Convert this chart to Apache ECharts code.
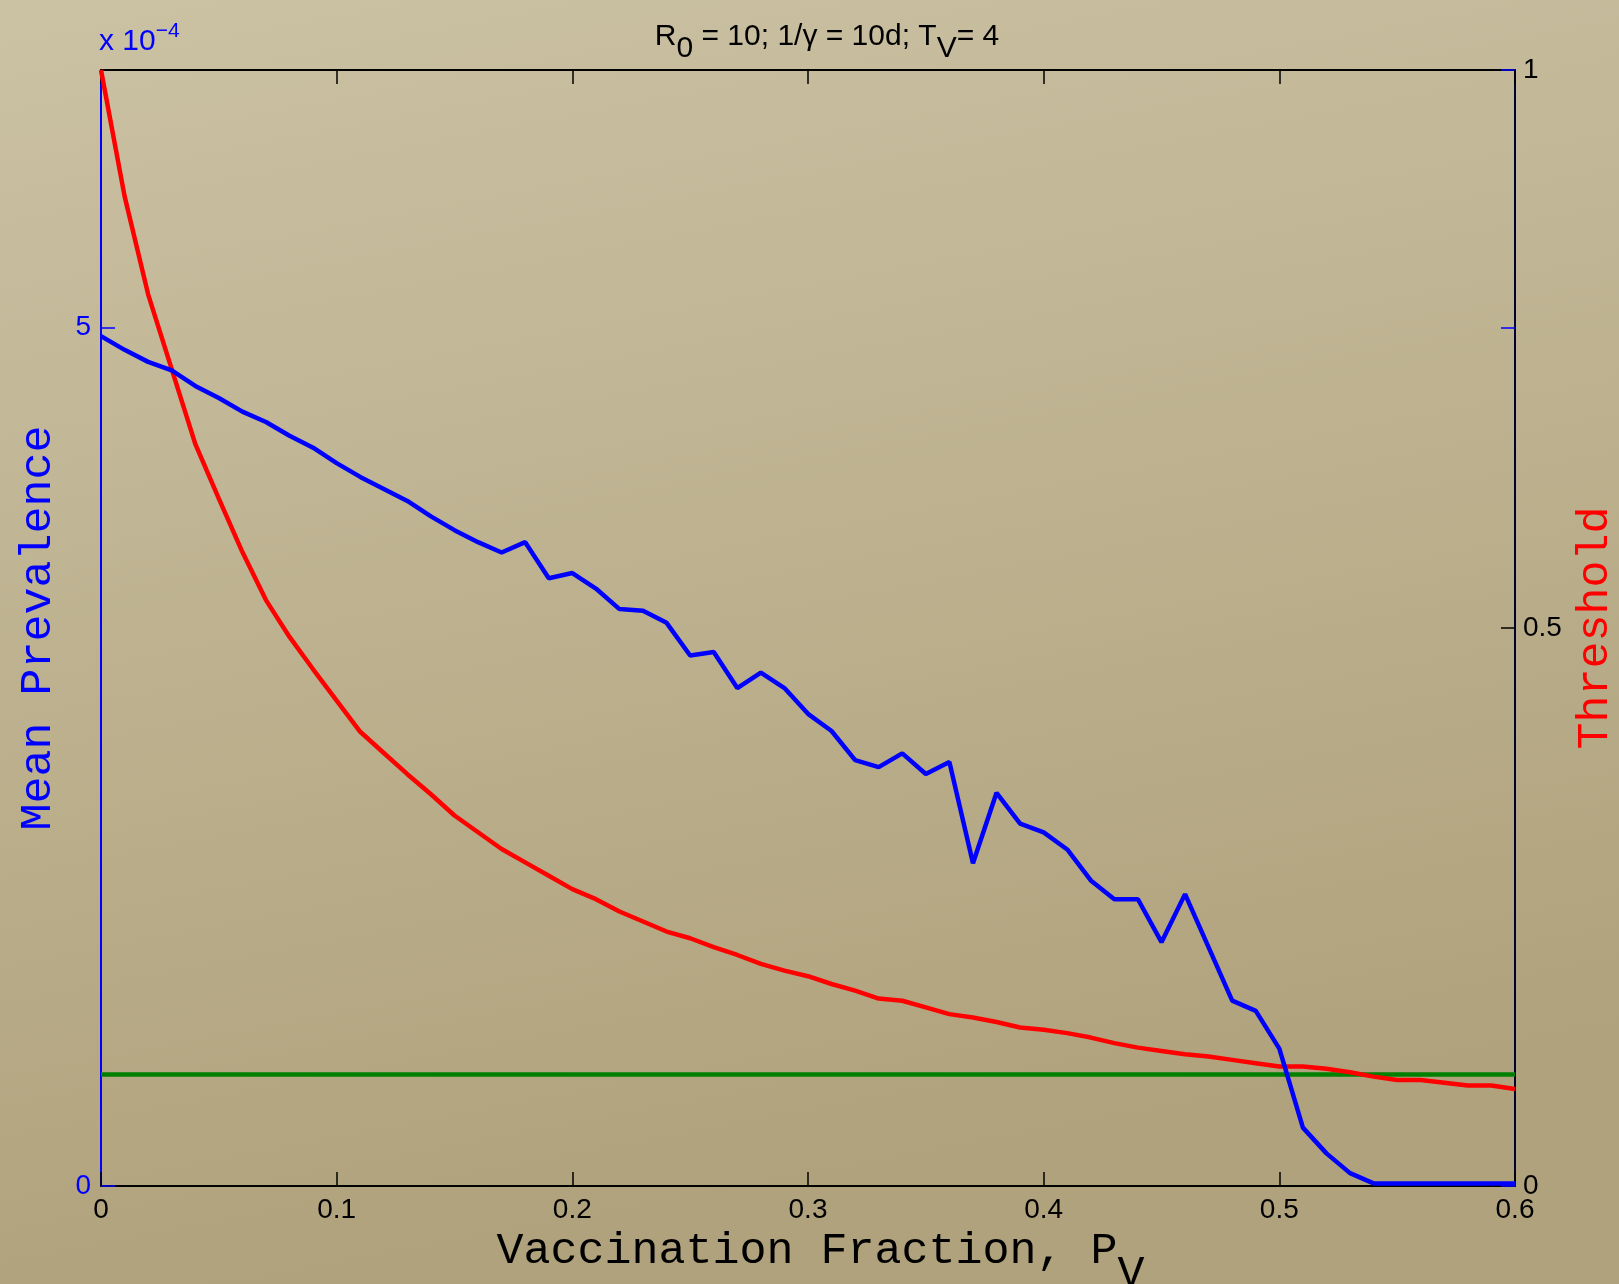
<!DOCTYPE html>
<html>
<head>
<meta charset="utf-8">
<script src="https://cdn.jsdelivr.net/npm/echarts@6/dist/echarts.min.js"></script>
<style>
  html, body { margin: 0; padding: 0; }
  #container { width: 1619px; height: 1284px; }
</style>
</head>
<body>
<div id="container"></div>
<script>
    var dom = document.getElementById('container');
    var myChart = echarts.init(dom, null, {
      renderer: 'canvas',
      useDirtyRect: false
    });

    // vaccination fraction, 0 .. 0.6 step 0.01
    var pv = [];
    for (var i = 0; i <= 60; i++) pv.push(+(i / 100).toFixed(2));

    // mean prevalence (x 1e-4)
    var prevalence = [
      4.95, 4.87, 4.80, 4.75, 4.66, 4.59, 4.51, 4.45, 4.37, 4.30,
      4.21, 4.13, 4.06, 3.99, 3.90, 3.82, 3.75, 3.69, 3.75, 3.54,
      3.57, 3.48, 3.36, 3.35, 3.28, 3.09, 3.11, 2.90, 2.99, 2.90,
      2.75, 2.65, 2.48, 2.44, 2.52, 2.40, 2.47, 1.88, 2.29, 2.11,
      2.06, 1.96, 1.78, 1.67, 1.67, 1.42, 1.70, 1.39, 1.08, 1.02,
      0.80, 0.34, 0.19, 0.075, 0.015, 0.015, 0.015, 0.015, 0.015, 0.015,
      0.015
    ];

    // threshold (right axis)
    var threshold = [
      1.000, 0.887, 0.799, 0.732, 0.665, 0.616, 0.568, 0.525, 0.492, 0.463,
      0.435, 0.407, 0.388, 0.369, 0.351, 0.332, 0.317, 0.302, 0.290, 0.278,
      0.266, 0.257, 0.246, 0.237, 0.228, 0.222, 0.214, 0.207, 0.199, 0.193,
      0.188, 0.181, 0.175, 0.168, 0.166, 0.160, 0.154, 0.151, 0.147, 0.142,
      0.140, 0.137, 0.133, 0.128, 0.124, 0.121, 0.118, 0.116, 0.113, 0.110,
      0.107, 0.107, 0.105, 0.102, 0.098, 0.095, 0.095, 0.0925, 0.090, 0.090,
      0.087
    ];

    // constant reference level
    var refX = [0, 0.6];
    var refLevel = 0.1;

    var sans = 'Liberation Sans';
    var mono = 'Liberation Mono';
    var gridBox = { left: 101, right: 104, top: 70, bottom: 98, containLabel: false, outerBoundsMode: 'none' };

    var option = {
      backgroundColor: new echarts.graphic.LinearGradient(0, 0, 0.15, 1, [
        { offset: 0, color: '#cbc2a4' },
        { offset: 1, color: '#b0a27c' }
      ]),
      animation: false,
      title: {
        text: 'R{s|0} = 10; 1/γ = 10d; T{s|V}= 4',
        left: 822,
        top: 5,
        textAlign: 'center',
        textStyle: {
          fontFamily: sans,
          fontSize: 30,
          fontWeight: 'normal',
          color: '#000',
          rich: {
            s: { fontFamily: sans, fontSize: 30, color: '#000', padding: [24, 0, 0, 0] }
          }
        }
      },
      graphic: [{
        type: 'text',
        left: 99,
        top: 21,
        style: {
          text: 'x 10{e|−4}',
          fontFamily: sans,
          fontSize: 30,
          fill: '#0000ff',
          rich: {
            e: { fontFamily: sans, fontSize: 21, fill: '#0000ff', padding: [0, 0, 20, 0] }
          }
        }
      }],
      grid: [
        Object.assign({}, gridBox),
        Object.assign({}, gridBox)
      ],
      xAxis: [{
        type: 'value',
        gridIndex: 0,
        position: 'bottom',
        min: 0,
        max: 0.6,
        interval: 0.1,
        name: '{m|Vaccination Fraction, P}{s|V}',
        nameLocation: 'middle',
        nameGap: 15,
        nameTextStyle: {
          rich: {
            m: { fontFamily: mono, fontSize: 45, color: '#000', padding: [0, 0, 0, 25] },
            s: { fontFamily: mono, fontSize: 45, color: '#000', padding: [46, 0, 0, 0] }
          }
        },
        axisLine: { show: true, onZero: false, lineStyle: { color: '#000', width: 2 } },
        axisTick: { show: true, inside: true, length: 14, lineStyle: { color: '#000', width: 1.5 } },
        axisLabel: {
          fontFamily: sans, fontSize: 28, color: '#000', margin: 10,
          formatter: function (v) { return String(+v.toFixed(1)); }
        },
        splitLine: { show: false }
      }, {
        type: 'value',
        gridIndex: 0,
        position: 'top',
        min: 0,
        max: 0.6,
        interval: 0.1,
        axisLine: { show: true, onZero: false, lineStyle: { color: '#000', width: 2 } },
        axisTick: { show: true, inside: true, length: 14, lineStyle: { color: '#000', width: 1.5 } },
        axisLabel: { show: false },
        splitLine: { show: false }
      }, {
        // helper axis for the mirrored prevalence tick on the right side
        type: 'value',
        gridIndex: 1,
        min: 0,
        max: 0.6,
        show: false
      }],
      yAxis: [{
        type: 'value',
        gridIndex: 0,
        position: 'left',
        min: 0,
        max: 6.5,
        interval: 5,
        name: 'Mean Prevalence',
        nameLocation: 'middle',
        nameRotate: 90,
        nameGap: 40,
        nameTextStyle: { fontFamily: mono, fontSize: 45, color: '#0000ff' },
        axisLine: { show: true, onZero: false, lineStyle: { color: '#0000ff', width: 2 } },
        axisTick: { show: true, inside: true, length: 14, lineStyle: { color: '#0000ff', width: 1.5 } },
        axisLabel: {
          fontFamily: sans, fontSize: 28, color: '#0000ff', margin: 10,
          showMaxLabel: false,
          formatter: function (v) { return String(Math.round(v)); }
        },
        splitLine: { show: false }
      }, {
        type: 'value',
        gridIndex: 0,
        position: 'right',
        min: 0,
        max: 1,
        interval: 0.5,
        name: 'Threshold',
        nameLocation: 'middle',
        nameRotate: 90,
        nameGap: 53,
        nameTextStyle: { fontFamily: mono, fontSize: 45, color: '#ff0000' },
        axisLine: { show: true, onZero: false, lineStyle: { color: '#000033', width: 2 } },
        axisTick: { show: true, inside: true, length: 14, lineStyle: { color: '#000', width: 1.5 } },
        axisLabel: {
          fontFamily: sans, fontSize: 28, color: '#000', margin: 8,
          formatter: function (v) { return String(v); }
        },
        splitLine: { show: false }
      }, {
        type: 'value',
        gridIndex: 1,
        position: 'right',
        min: 0,
        max: 6.5,
        interval: 5,
        axisLine: { show: false, onZero: false },
        axisTick: {
          show: true, inside: true, length: 14,
          interval: function (idx, v) { return v === 5; },
          lineStyle: { color: '#0000ff', width: 1.5 }
        },
        axisLabel: { show: false },
        splitLine: { show: false }
      }],
      series: [{
        name: 'Mean Prevalence',
        type: 'line',
        xAxisIndex: 0,
        yAxisIndex: 0,
        data: pv.map(function (x, i) { return [x, prevalence[i]]; }),
        showSymbol: false,
        lineStyle: { color: '#0000ff', width: 4.5 },
        z: 3
      }, {
        name: 'Threshold',
        type: 'line',
        xAxisIndex: 0,
        yAxisIndex: 1,
        data: pv.map(function (x, i) { return [x, threshold[i]]; }),
        showSymbol: false,
        lineStyle: { color: '#ff0000', width: 4.5 },
        z: 2
      }, {
        name: 'Level',
        type: 'line',
        xAxisIndex: 0,
        yAxisIndex: 1,
        data: refX.map(function (x) { return [x, refLevel]; }),
        showSymbol: false,
        lineStyle: { color: '#008000', width: 4.5 },
        z: 1
      }]
    };

    if (option && typeof option === 'object') {
      myChart.setOption(option);
    }

    window.addEventListener('resize', myChart.resize);
</script>
</body>
</html>
